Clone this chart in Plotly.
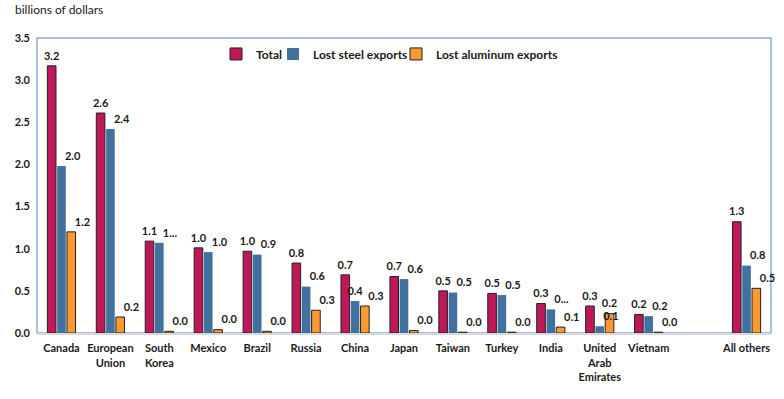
import plotly.graph_objects as go

categories = ["Canada", "European<br>Union", "South<br>Korea", "Mexico", "Brazil", "Russia",
              "China", "Japan", "Taiwan", "Turkey", "India", "United<br>Arab<br>Emirates",
              "Vietnam", " ", "All others"]
total = [3.17, 2.61, 1.09, 1.01, 0.97, 0.83, 0.69, 0.67, 0.50, 0.47, 0.35, 0.32, 0.22, None, 1.32]
steel = [1.98, 2.42, 1.07, 0.96, 0.93, 0.55, 0.38, 0.64, 0.48, 0.45, 0.28, 0.08, 0.20, None, 0.80]
alum = [1.20, 0.19, 0.02, 0.04, 0.02, 0.27, 0.32, 0.03, 0.01, 0.01, 0.07, 0.23, 0.01, None, 0.53]
total_labels = ["3.2", "2.6", "1.1", "1.0", "1.0", "0.8", "0.7", "0.7", "0.5", "0.5", "0.3", "0.3", "0.2", "", "1.3"]
steel_labels = ["2.0", "2.4", "1...", "1.0", "0.9", "0.6", "0.4", "0.6", "0.5", "0.5", "0...", "0.1", "0.2", "", "0.8"]
alum_labels = ["1.2", "0.2", "0.0", "0.0", "0.0", "0.3", "0.3", "0.0", "0.0", "0.0", "0.1", "0.2", "0.0", "", "0.5"]
y_ticks = [0.0, 0.5, 1.0, 1.5, 2.0, 2.5, 3.0, 3.5]

# label placement (style only)
total_pos = "top center"
steel_pos = ["top center" if c == "China" else "top right" for c in categories]
alum_pos = ["top center" if c.startswith("United") else "top right" for c in categories]

FONT = "Lato"
lab_font = dict(family=FONT, size=11, color="#1a1a1a", weight="bold")
GAP = 0.4

series = [
    ("Total", total, total_labels, "#BE1858", "#222222", 1, total_pos, "legend"),
    ("Lost steel exports", steel, steel_labels, "#41729F", "#41729F", 0, steel_pos, "legend2"),
    ("Lost aluminum exports", alum, alum_labels, "#FA9A30", "#222222", 1, alum_pos, "legend3"),
]

fig = go.Figure()
for name, vals, labs, col, lcol, lw, tpos, leg in series:
    fig.add_trace(go.Bar(name=name, x=categories, y=vals, offsetgroup=name, legend=leg,
                         marker=dict(color=col, line=dict(color=lcol, width=lw))))
for name, vals, labs, col, lcol, lw, tpos, leg in series:
    fig.add_trace(go.Scatter(x=categories, y=vals, text=labs, mode="markers+text", offsetgroup=name,
                             marker=dict(size=4, opacity=0, color=col),
                             textposition=tpos, textfont=lab_font, showlegend=False,
                             cliponaxis=False, hoverinfo="skip"))

def px(x):
    return (x - 37) / 734.0

leg_common = dict(orientation="h", xanchor="left", yanchor="middle", y=0.946,
                  font=dict(family=FONT, size=12, color="#1a1a1a", weight="bold"),
                  bgcolor="rgba(0,0,0,0)", itemwidth=30, borderwidth=0)

fig.update_layout(
    width=784, height=399,
    margin=dict(l=37, r=13, t=38, b=66, autoexpand=False),
    paper_bgcolor="white", plot_bgcolor="white",
    barmode="group", bargap=GAP, bargroupgap=0.12,
    scattermode="group", scattergap=GAP,
    font=dict(family=FONT, size=11, color="#1a1a1a"),
    showlegend=True,
    legend=dict(x=px(216), **leg_common),
    legend2=dict(x=px(273), **leg_common),
    legend3=dict(x=px(396), **leg_common),
    xaxis=dict(type="category", showgrid=False, showline=True, linecolor="#D9D9D9", linewidth=2,
               ticks="", tickfont=dict(family=FONT, size=11, color="#1a1a1a", weight="bold"),
               tickangle=0, automargin=False, ticklabelstandoff=4),
    yaxis=dict(range=[0, 3.5], tickvals=y_ticks, tickformat=".1f", showgrid=False,
               showline=False, zeroline=False, ticks="", automargin=False, ticklabelstandoff=6,
               tickfont=dict(family=FONT, size=11, color="#1a1a1a", weight="bold")),
    annotations=[dict(text="billions of dollars", xref="paper", yref="paper", x=px(13), y=1.0,
                      yshift=19, xanchor="left", yanchor="bottom", showarrow=False,
                      font=dict(family=FONT, size=12, color="#1a1a1a"))],
    shapes=[dict(type="rect", xref="paper", yref="paper", x0=0, x1=1, y0=0, y1=1,
                 line=dict(color="#8FAADC", width=1.5), layer="below")],
)

fig.write_html("out.html", config={"displayModeBar": False},
               post_script="document.body.style.margin='0';")
